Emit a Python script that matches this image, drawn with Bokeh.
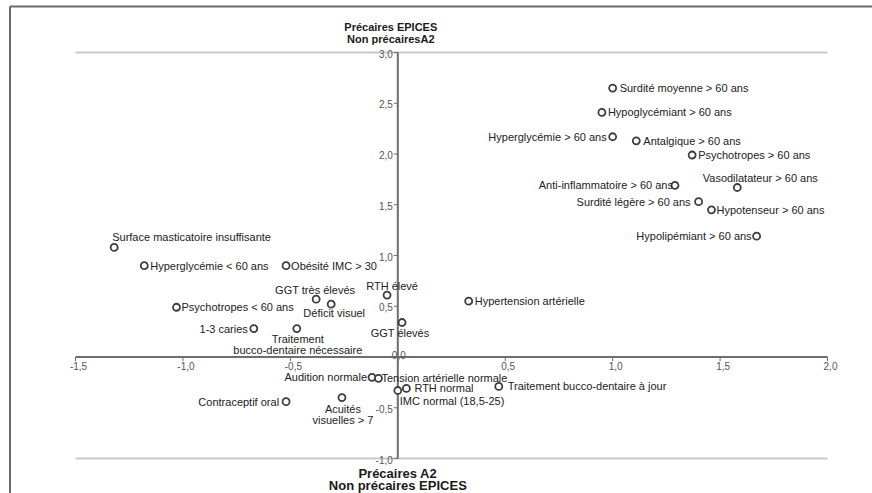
from bokeh.plotting import figure
from bokeh.embed import file_html
from bokeh.resources import INLINE
from bokeh.models import ColumnDataSource, Range1d
from bokeh.core.properties import value

# Modalities of the correspondence analysis and their coordinates on the two axes
labels = [
    "Surface masticatoire insuffisante",
    "Hyperglycémie < 60 ans",
    "Obésité IMC > 30",
    "GGT très élevés",
    "Déficit visuel",
    "Psychotropes < 60 ans",
    "1-3 caries",
    "Traitement\nbucco-dentaire nécessaire",
    "RTH élevé",
    "GGT élevés",
    "Hypertension artérielle",
    "Audition normale",
    "Tension artérielle normale",
    "RTH normal",
    "IMC normal (18,5-25)",
    "Contraceptif oral",
    "Acuités\nvisuelles > 7",
    "Traitement bucco-dentaire à jour",
    "Surdité moyenne > 60 ans",
    "Hypoglycémiant > 60 ans",
    "Hyperglycémie > 60 ans",
    "Antalgique > 60 ans",
    "Psychotropes > 60 ans",
    "Anti-inflammatoire > 60 ans",
    "Vasodilatateur > 60 ans",
    "Surdité légère > 60 ans",
    "Hypotenseur > 60 ans",
    "Hypolipémiant > 60 ans",
]
dim1 = [-1.32, -1.18, -0.52, -0.38, -0.31, -1.03, -0.67, -0.47, -0.05, 0.02,
        0.33, -0.12, -0.09, 0.04, 0.00, -0.52, -0.26, 0.47,
        1.00, 0.95, 1.00, 1.11, 1.37, 1.29, 1.58, 1.40, 1.46, 1.67]
dim2 = [1.08, 0.90, 0.90, 0.57, 0.52, 0.49, 0.28, 0.28, 0.61, 0.34,
        0.55, -0.20, -0.21, -0.31, -0.33, -0.44, -0.40, -0.29,
        2.65, 2.41, 2.17, 2.13, 1.99, 1.69, 1.67, 1.53, 1.45, 1.19]

x_ticks = [-1.5, -1.0, -0.5, 0.5, 1.0, 1.5, 2.0]
x_tick_labels = ["-1,5", "-1,0", "-0,5", "0,5", "1,0", "1,5", "2,0"]
y_ticks = [3.0, 2.5, 2.0, 1.5, 1.0, 0.5, -0.5, -1.0]
y_tick_labels = ["3,0", "2,5", "2,0", "1,5", "1,0", "0,5", "-0,5", "-1,0"]
origin_label = "0,0"

title_top = ["Précaires EPICES", "Non précairesA2"]
title_bottom = ["Précaires A2", "Non précaires EPICES"]

# Label placement: (text_align, text_baseline, x_offset px, y_offset px)
R = ("left", "middle", 6, 0)
L = ("right", "middle", -6, 0)
placement = {
    "Surface masticatoire insuffisante": ("left", "middle", -2, -10),
    "Hyperglycémie < 60 ans": R,
    "Obésité IMC > 30": ("left", "middle", 5, 0),
    "GGT très élevés": ("center", "middle", -1, -9),
    "Déficit visuel": ("center", "middle", 3, 9),
    "Psychotropes < 60 ans": ("left", "middle", 5, 0),
    "1-3 caries": L,
    "Traitement\nbucco-dentaire nécessaire": ("center", "top", 1, 4),
    "RTH élevé": ("center", "middle", 5, -9),
    "GGT élevés": ("center", "middle", -2, 11),
    "Hypertension artérielle": R,
    "Audition normale": ("right", "middle", -5, 0),
    "Tension artérielle normale": ("left", "middle", 3, 0),
    "RTH normal": ("left", "middle", 8, 0),
    "IMC normal (18,5-25)": ("left", "middle", 2, 11),
    "Contraceptif oral": ("right", "middle", -7, 0),
    "Acuités\nvisuelles > 7": ("center", "top", 1, 5),
    "Traitement bucco-dentaire à jour": ("left", "middle", 9, 0),
    "Surdité moyenne > 60 ans": ("left", "middle", 7, 0),
    "Hypoglycémiant > 60 ans": R,
    "Hyperglycémie > 60 ans": L,
    "Antalgique > 60 ans": ("left", "middle", 7, 0),
    "Psychotropes > 60 ans": R,
    "Anti-inflammatoire > 60 ans": ("right", "middle", -2, 0),
    "Vasodilatateur > 60 ans": ("center", "middle", 23, -9),
    "Surdité légère > 60 ans": ("right", "middle", -8, 0),
    "Hypotenseur > 60 ans": ("left", "middle", 5, 0),
    "Hypolipémiant > 60 ans": ("right", "middle", -5, 0),
}

W, H = 872, 493
PX_X, PX_Y = 214.857, 101.5       # pixels per unit
ORIG_X, ORIG_Y = 397.3, 356.5     # pixel position of (0, 0)

x0 = -ORIG_X / PX_X
x1 = (W - ORIG_X) / PX_X
y1 = ORIG_Y / PX_Y
y0 = -(H - ORIG_Y) / PX_Y

p = figure(width=W, height=H, output_backend="svg", toolbar_location=None,
           x_range=Range1d(x0, x1), y_range=Range1d(y0, y1),
           min_border=0, outline_line_color=None)
p.axis.visible = False
p.grid.visible = False
p.background_fill_color = "white"
p.border_fill_color = "white"

FONT = value("Liberation Sans")

# frame on the left and top of the panel
fx = x0 + 9.5 / PX_X
fy = y1 - 6.0 / PX_Y
p.segment(x0=[fx, fx], y0=[fy, fy], x1=[fx, x1], y1=[y0, fy],
          line_color="#6a6a6a", line_width=2)

# bounding lines at the top and bottom of the vertical axis
xmin, xmax = x_ticks[0], x_ticks[-1]
ymin, ymax = y_ticks[-1], y_ticks[0]
p.segment(x0=[xmin, xmin], y0=[ymax, ymin], x1=[xmax, xmax], y1=[ymax, ymin],
          line_color="#c9c9c9", line_width=2)

# the two axes crossing at the origin
p.segment(x0=[xmin, 0], y0=[0, ymin], x1=[xmax, 0], y1=[0, ymax],
          line_color="#6e6e6e", line_width=2)

# ticks
tx = 4.0 / PX_Y
p.segment(x0=x_ticks, y0=[0] * len(x_ticks), x1=x_ticks, y1=[-tx] * len(x_ticks),
          line_color="#6e6e6e", line_width=1)
ty = 4.0 / PX_X
p.segment(x0=[0] * len(y_ticks), y0=y_ticks, x1=[-ty] * len(y_ticks), y1=y_ticks,
          line_color="#6e6e6e", line_width=1)

p.text(x=x_ticks, y=[0] * len(x_ticks), text=x_tick_labels,
       text_font=FONT, text_font_size="10px", text_color="#555555",
       text_align="center", text_baseline="middle", x_offset=3, y_offset=9)
p.text(x=[0] * len(y_ticks), y=y_ticks, text=y_tick_labels,
       text_font=FONT, text_font_size="10px", text_color="#555555",
       text_align="right", text_baseline="middle", x_offset=-5, y_offset=1)
p.text(x=[0], y=[0], text=[origin_label],
       text_font=FONT, text_font_size="10px", text_color="#555555",
       text_align="center", text_baseline="middle", x_offset=1, y_offset=-2)

# points
src = ColumnDataSource(dict(
    x=dim1, y=dim2, label=labels,
    align=[placement[l][0] for l in labels],
    base=[placement[l][1] for l in labels],
    dx=[placement[l][2] for l in labels],
    dy=[placement[l][3] for l in labels],
))
p.scatter("x", "y", source=src, marker="circle", size=7,
          fill_color="white", line_color="#3c3c3c", line_width=1.8)
p.text("x", "y", text="label", source=src, text_font=FONT,
       text_font_size="11px", text_color="#222222",
       text_align="align", text_baseline="base",
       x_offset="dx", y_offset="dy", text_line_height=0.95)

# titles of the vertical axis ends
p.text(x=[0, 0], y=[ymax, ymax], text=title_top, text_font=FONT,
       text_font_size="11px", text_font_style="bold", text_color="#1a1a1a",
       text_align="center", text_baseline="middle",
       x_offset=-7, y_offset=[-26, -14])
p.text(x=[0, 0], y=[ymin, ymin], text=title_bottom, text_font=FONT,
       text_font_size="13px", text_font_style="bold", text_color="#1a1a1a",
       text_align="center", text_baseline="middle",
       x_offset=0, y_offset=[15, 27])

open("out.html", "w").write(file_html(p, INLINE))
